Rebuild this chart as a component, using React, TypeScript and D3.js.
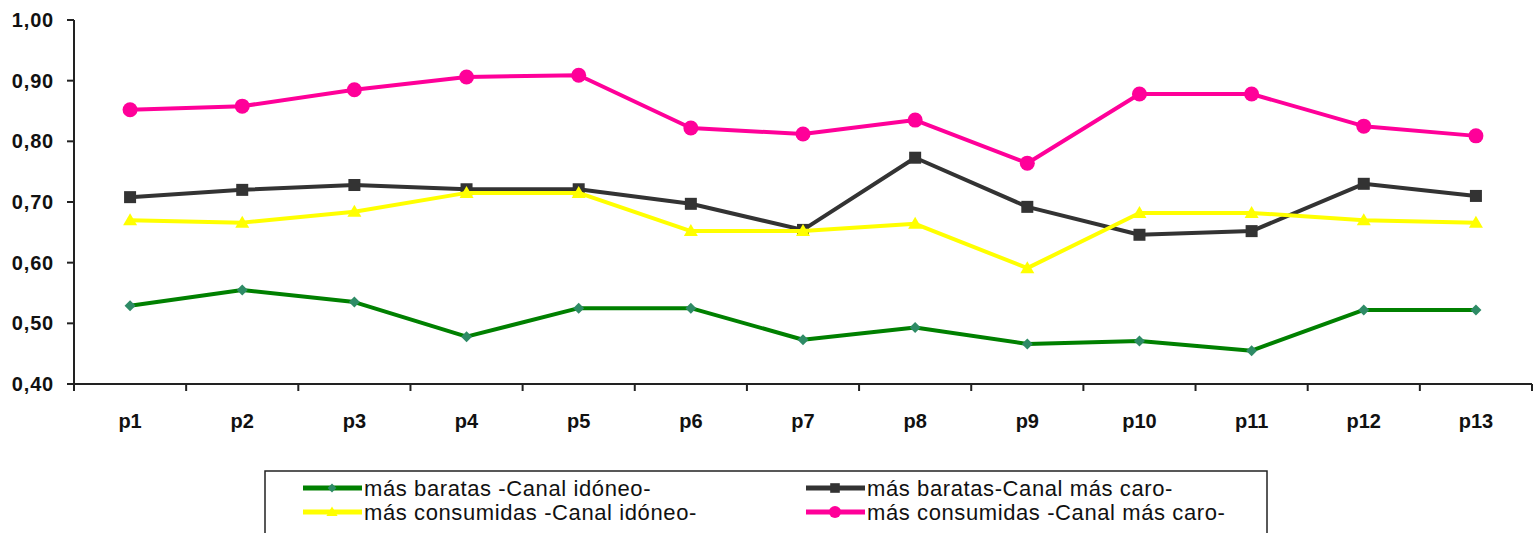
import React from "react";
import * as d3 from "d3";

const categories = ["p1","p2","p3","p4","p5","p6","p7","p8","p9","p10","p11","p12","p13"];
const yTicks = [0.4,0.5,0.6,0.7,0.8,0.9,1.0];

const baratasIdoneo = [0.529,0.555,0.535,0.478,0.525,0.525,0.473,0.493,0.466,0.471,0.455,0.522,0.522];
const baratasCaro = [0.708,0.720,0.728,0.721,0.721,0.697,0.654,0.773,0.692,0.646,0.652,0.730,0.710];
const consumidasIdoneo = [0.670,0.666,0.684,0.715,0.715,0.652,0.652,0.664,0.591,0.682,0.682,0.670,0.666];
const consumidasCaro = [0.852,0.858,0.885,0.906,0.909,0.822,0.812,0.835,0.764,0.878,0.878,0.825,0.809];

const seriesNames = [
  "más baratas -Canal idóneo-",
  "más baratas-Canal más caro-",
  "más consumidas -Canal idóneo-",
  "más consumidas -Canal más caro-",
];

type S = { name: string; values: number[]; color: string; marker: string; mcolor: string };
const series: S[] = [
  { name: seriesNames[0], values: baratasIdoneo, color: "#008000", marker: "diamond", mcolor: "#2e8b66" },
  { name: seriesNames[1], values: baratasCaro, color: "#333333", marker: "square", mcolor: "#333333" },
  { name: seriesNames[2], values: consumidasIdoneo, color: "#ffff00", marker: "triangle", mcolor: "#ffff00" },
  { name: seriesNames[3], values: consumidasCaro, color: "#ff0099", marker: "circle", mcolor: "#ff0099" },
];

const W = 1540, H = 533;
const left = 74, right = 1532, top = 20, bottom = 384;

function Marker({ kind, x, y, color, s = 1 }: { kind: string; x: number; y: number; color: string; s?: number }) {
  if (kind === "circle") return <circle cx={x} cy={y} r={7.5 * s} fill={color} />;
  if (kind === "square") return <rect x={x - 6 * s} y={y - 6 * s} width={12 * s} height={12 * s} fill={color} />;
  if (kind === "triangle") return <path d={`M${x},${y - 7 * s}L${x + 7 * s},${y + 5 * s}L${x - 7 * s},${y + 5 * s}Z`} fill={color} />;
  return <path d={`M${x},${y - 5.5 * s}L${x + 5.5 * s},${y}L${x},${y + 5.5 * s}L${x - 5.5 * s},${y}Z`} fill={color} />;
}

export default function App() {
  const x = d3.scaleBand<string>().domain(categories).range([left, right]);
  const y = d3.scaleLinear().domain([0.4, 1.0]).range([bottom, top]);
  const line = d3.line<number>()
    .x((_, i) => (x(categories[i]) as number) + x.bandwidth() / 2)
    .y((d) => y(d));
  const fmt = (v: number) => v.toFixed(2).replace(".", ",");
  const boundaries = categories.map((c) => x(c) as number).concat([right]);

  const legendItems = [
    { s: series[0], lx: 303, ly: 488 },
    { s: series[1], lx: 806, ly: 488 },
    { s: series[2], lx: 303, ly: 512 },
    { s: series[3], lx: 806, ly: 512 },
  ];

  return (
    <svg width={W} height={H} style={{ position: "absolute", left: 0, top: 0, background: "#fff" }}
      fontFamily="'Liberation Sans', Arial, sans-serif">
      <line x1={left} y1={top} x2={left} y2={bottom} stroke="#222" strokeWidth={2} />
      <line x1={left} y1={bottom} x2={right} y2={bottom} stroke="#222" strokeWidth={2} />
      {yTicks.map((t) => (
        <g key={t}>
          <line x1={left - 7} x2={left} y1={y(t)} y2={y(t)} stroke="#222" strokeWidth={2} />
          <text x={54} y={y(t) + 7} textAnchor="end" fontSize={20} fontWeight="bold" letterSpacing={0.8} fill="#111">{fmt(t)}</text>
        </g>
      ))}
      {boundaries.map((b, i) => (
        <line key={i} x1={b} x2={b} y1={bottom} y2={bottom + 7} stroke="#222" strokeWidth={2} />
      ))}
      {categories.map((c) => (
        <text key={c} x={(x(c) as number) + x.bandwidth() / 2} y={428} textAnchor="middle" fontSize={20} fontWeight="bold" fill="#111">{c}</text>
      ))}
      {series.map((s) => (
        <g key={s.name}>
          <path d={line(s.values) as string} fill="none" stroke={s.color} strokeWidth={4} strokeLinejoin="round" />
          {s.values.map((v, i) => (
            <Marker key={i} kind={s.marker} x={(x(categories[i]) as number) + x.bandwidth() / 2} y={y(v)} color={s.mcolor} />
          ))}
        </g>
      ))}
      <rect x={265} y={471} width={1002} height={70} fill="#fff" stroke="#222" strokeWidth={1.5} />
      {legendItems.map(({ s, lx, ly }) => (
        <g key={s.name}>
          <line x1={lx} x2={lx + 59} y1={ly} y2={ly} stroke={s.color} strokeWidth={5} />
          <Marker kind={s.marker} x={lx + 29} y={ly} color={s.mcolor} s={0.8} />
          <text x={lx + 61} y={ly + 8} fontSize={22} letterSpacing={0.6} fill="#111">{s.name}</text>
        </g>
      ))}
    </svg>
  );
}
